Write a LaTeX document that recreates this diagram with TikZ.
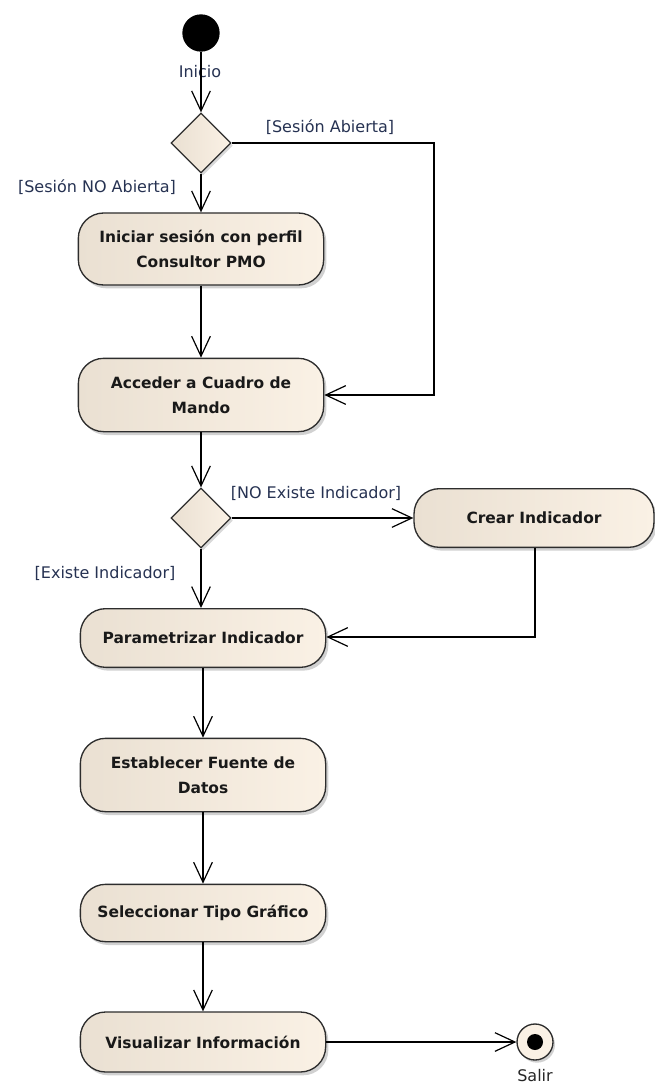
\documentclass[tikz,border=0pt]{standalone}
\usepackage{fontspec}
\setmainfont{DejaVu Sans}
\usetikzlibrary{shapes.geometric, arrows.meta, shadows, positioning}
\definecolor{actleft}{RGB}{234, 224, 210}
\definecolor{actright}{RGB}{250, 241, 229}
\definecolor{guardblue}{RGB}{38, 50, 82}
\definecolor{actline}{RGB}{45, 45, 45}

\tikzset{
  actbox/.style={draw=actline, line width=1pt, rounded corners=19pt,
    left color=actleft, right color=actright, align=center,
    font=\bfseries\fontsize{11.6}{18.5}\selectfont, text=black!90,
    minimum width=184pt, inner sep=2pt,
    drop shadow={shadow xshift=2pt, shadow yshift=-2.5pt, opacity=0.3, fill=black!60}},
  decbox/.style={diamond, draw=actline, line width=1pt, aspect=1,
    left color=actleft, right color=actright, minimum size=45pt, inner sep=0pt,
    drop shadow={shadow xshift=1.5pt, shadow yshift=-2pt, opacity=0.25, fill=black!60}},
  guard/.style={text=guardblue, font=\fontsize{12}{14}\selectfont, inner sep=0pt},
  flow/.style={draw=black, line width=0.9pt, -{Straight Barb[length=15pt, width=14pt, line width=0.9pt]}},
}

\begin{document}
\begin{tikzpicture}[x=0.75pt, y=-0.75pt]
  \useasboundingbox (0,0) rectangle (654,1084);

  % start / decision on the session
  \node[circle, fill=black, minimum size=28pt, inner sep=0pt] (inicio) at (201,33) {};
  \node[guard, text=guardblue] (inicioLbl) at (200,72) {Inicio};
  \node[decbox] (sesion) at (201,143) {};

  \node[actbox, minimum height=54pt] (login) at (201,249) {Iniciar sesión con perfil\\Consultor PMO};
  \node[actbox, minimum height=55pt] (cuadro) at (201,395) {Acceder a Cuadro de\\Mando};

  % decision on the indicator
  \node[decbox] (existe) at (201,518) {};
  \node[actbox, minimum width=180pt, minimum height=44pt] (crear) at (534,518) {Crear Indicador};

  \node[actbox, minimum height=44pt] (param) at (203,638) {Parametrizar Indicador};
  \node[actbox, minimum height=55pt] (fuente) at (203,775) {Establecer Fuente de\\Datos};
  \node[actbox, minimum height=43pt] (tipo) at (203,913) {Seleccionar Tipo Gráfico};
  \node[actbox, minimum height=45pt] (visual) at (203,1042) {Visualizar Información};

  % final node
  \node[circle, draw=actline, line width=1pt, fill=actright, minimum size=27pt, inner sep=0pt,
    drop shadow={shadow xshift=1.5pt, shadow yshift=-2pt, opacity=0.3, fill=black!60}] (salir) at (535,1042) {};
  \fill[black] (salir) circle (6pt);
  \node[guard, text=black!85] (salirLbl) at (535,1076) {Salir};

  \coordinate (abierta) at (434,143);
  \coordinate (bajaCrear) at (535,637);

  % connectors
  \draw[flow] (inicio) -- (sesion.north);
  \draw[flow] (sesion.south) -- (login.north);
  \draw[flow] (sesion.east) -- (abierta) |- (cuadro.east);
  \draw[flow] (login.south) -- (cuadro.north);
  \draw[flow] (cuadro.south) -- (existe.north);
  \draw[flow] (existe.east) -- (crear.west);
  \draw[flow] (existe.south) -- (existe.south |- param.north);
  \draw[flow] (crear.south -| bajaCrear) -- (bajaCrear) -- (bajaCrear -| param.east);
  \draw[flow] (param.south) -- (fuente.north);
  \draw[flow] (fuente.south) -- (tipo.north);
  \draw[flow] (tipo.south) -- (visual.north);
  \draw[flow] (visual.east) -- (salir.west);

  % guard labels
  \node[guard] (gAbierta) at (330,127) {[Sesión Abierta]};
  \node[guard] (gNoAbierta) at (97,187) {[Sesión NO Abierta]};
  \node[guard] (gNoExiste) at (316,493) {[NO Existe Indicador]};
  \node[guard] (gExiste) at (105,573) {[Existe Indicador]};
\end{tikzpicture}
\end{document}
